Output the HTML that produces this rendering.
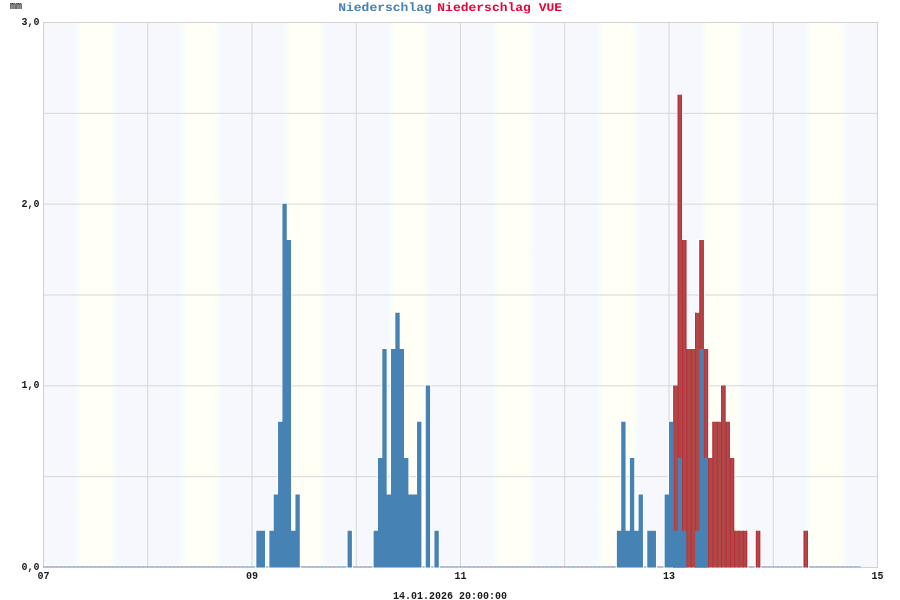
<!DOCTYPE html>
<html><head><meta charset="utf-8"><style>
html,body{margin:0;padding:0;background:#fff;width:900px;height:600px;overflow:hidden}
svg{display:block;will-change:transform}
text{font-family:"Liberation Mono",monospace;font-weight:bold}
</style></head><body>
<svg width="900" height="600" viewBox="0 0 900 600">
<defs><linearGradient id="bg" x1="43" y1="0" x2="877" y2="0" gradientUnits="userSpaceOnUse">
<stop offset="3.828%" stop-color="#f6f8fe"/>
<stop offset="3.958%" stop-color="#f4fcfe"/>
<stop offset="4.323%" stop-color="#f8fef7"/>
<stop offset="4.688%" stop-color="#fffff5"/>
<stop offset="8.125%" stop-color="#fffff5"/>
<stop offset="8.490%" stop-color="#f8fef7"/>
<stop offset="8.802%" stop-color="#f4fcfe"/>
<stop offset="8.932%" stop-color="#f6f8fe"/>
<stop offset="16.328%" stop-color="#f6f8fe"/>
<stop offset="16.458%" stop-color="#f4fcfe"/>
<stop offset="16.823%" stop-color="#f8fef7"/>
<stop offset="17.188%" stop-color="#fffff5"/>
<stop offset="20.625%" stop-color="#fffff5"/>
<stop offset="20.990%" stop-color="#f8fef7"/>
<stop offset="21.302%" stop-color="#f4fcfe"/>
<stop offset="21.432%" stop-color="#f6f8fe"/>
<stop offset="28.828%" stop-color="#f6f8fe"/>
<stop offset="28.958%" stop-color="#f4fcfe"/>
<stop offset="29.323%" stop-color="#f8fef7"/>
<stop offset="29.688%" stop-color="#fffff5"/>
<stop offset="33.125%" stop-color="#fffff5"/>
<stop offset="33.490%" stop-color="#f8fef7"/>
<stop offset="33.802%" stop-color="#f4fcfe"/>
<stop offset="33.932%" stop-color="#f6f8fe"/>
<stop offset="41.328%" stop-color="#f6f8fe"/>
<stop offset="41.458%" stop-color="#f4fcfe"/>
<stop offset="41.823%" stop-color="#f8fef7"/>
<stop offset="42.188%" stop-color="#fffff5"/>
<stop offset="45.625%" stop-color="#fffff5"/>
<stop offset="45.990%" stop-color="#f8fef7"/>
<stop offset="46.302%" stop-color="#f4fcfe"/>
<stop offset="46.432%" stop-color="#f6f8fe"/>
<stop offset="53.828%" stop-color="#f6f8fe"/>
<stop offset="53.958%" stop-color="#f4fcfe"/>
<stop offset="54.323%" stop-color="#f8fef7"/>
<stop offset="54.688%" stop-color="#fffff5"/>
<stop offset="58.125%" stop-color="#fffff5"/>
<stop offset="58.490%" stop-color="#f8fef7"/>
<stop offset="58.802%" stop-color="#f4fcfe"/>
<stop offset="58.932%" stop-color="#f6f8fe"/>
<stop offset="66.328%" stop-color="#f6f8fe"/>
<stop offset="66.458%" stop-color="#f4fcfe"/>
<stop offset="66.823%" stop-color="#f8fef7"/>
<stop offset="67.188%" stop-color="#fffff5"/>
<stop offset="70.625%" stop-color="#fffff5"/>
<stop offset="70.990%" stop-color="#f8fef7"/>
<stop offset="71.302%" stop-color="#f4fcfe"/>
<stop offset="71.432%" stop-color="#f6f8fe"/>
<stop offset="78.828%" stop-color="#f6f8fe"/>
<stop offset="78.958%" stop-color="#f4fcfe"/>
<stop offset="79.323%" stop-color="#f8fef7"/>
<stop offset="79.688%" stop-color="#fffff5"/>
<stop offset="83.125%" stop-color="#fffff5"/>
<stop offset="83.490%" stop-color="#f8fef7"/>
<stop offset="83.802%" stop-color="#f4fcfe"/>
<stop offset="83.932%" stop-color="#f6f8fe"/>
<stop offset="91.328%" stop-color="#f6f8fe"/>
<stop offset="91.458%" stop-color="#f4fcfe"/>
<stop offset="91.823%" stop-color="#f8fef7"/>
<stop offset="92.188%" stop-color="#fffff5"/>
<stop offset="95.625%" stop-color="#fffff5"/>
<stop offset="95.990%" stop-color="#f8fef7"/>
<stop offset="96.302%" stop-color="#f4fcfe"/>
<stop offset="96.432%" stop-color="#f6f8fe"/>
</linearGradient></defs>
<rect x="0" y="0" width="900" height="600" fill="#ffffff"/>
<rect x="43" y="22" width="834" height="545" fill="url(#bg)"/>
<rect x="43" y="565" width="817.8" height="1" fill="#ffffff"/>
<line x1="147.75" y1="22" x2="147.75" y2="567" stroke="#d6d6d6" stroke-width="1"/>
<line x1="252.00" y1="22" x2="252.00" y2="567" stroke="#d6d6d6" stroke-width="1"/>
<line x1="356.25" y1="22" x2="356.25" y2="567" stroke="#d6d6d6" stroke-width="1"/>
<line x1="460.50" y1="22" x2="460.50" y2="567" stroke="#d6d6d6" stroke-width="1"/>
<line x1="564.75" y1="22" x2="564.75" y2="567" stroke="#d6d6d6" stroke-width="1"/>
<line x1="669.00" y1="22" x2="669.00" y2="567" stroke="#d6d6d6" stroke-width="1"/>
<line x1="773.25" y1="22" x2="773.25" y2="567" stroke="#d6d6d6" stroke-width="1"/>
<line x1="43" y1="113.33" x2="877" y2="113.33" stroke="#d6d6d6" stroke-width="1"/>
<line x1="43" y1="204.17" x2="877" y2="204.17" stroke="#d6d6d6" stroke-width="1"/>
<line x1="43" y1="295.00" x2="877" y2="295.00" stroke="#d6d6d6" stroke-width="1"/>
<line x1="43" y1="385.83" x2="877" y2="385.83" stroke="#d6d6d6" stroke-width="1"/>
<line x1="43" y1="476.67" x2="877" y2="476.67" stroke="#d6d6d6" stroke-width="1"/>
<rect x="43.5" y="22.5" width="834" height="545" fill="none" stroke="#d2d2d2" stroke-width="1"/>
<g>
<rect x="43" y="566" width="817.8" height="1.6" fill="#a9c1d6"/>
<rect x="43.00" y="566" width="1" height="1.6" fill="#c4a4bc"/>
<rect x="47.34" y="566" width="1" height="1.6" fill="#c4a4bc"/>
<rect x="51.69" y="566" width="1" height="1.6" fill="#c4a4bc"/>
<rect x="56.03" y="566" width="1" height="1.6" fill="#c4a4bc"/>
<rect x="60.38" y="566" width="1" height="1.6" fill="#c4a4bc"/>
<rect x="64.72" y="566" width="1" height="1.6" fill="#c4a4bc"/>
<rect x="69.06" y="566" width="1" height="1.6" fill="#c4a4bc"/>
<rect x="73.41" y="566" width="1" height="1.6" fill="#c4a4bc"/>
<rect x="77.75" y="566" width="1" height="1.6" fill="#c4a4bc"/>
<rect x="82.09" y="566" width="1" height="1.6" fill="#c4a4bc"/>
<rect x="86.44" y="566" width="1" height="1.6" fill="#c4a4bc"/>
<rect x="90.78" y="566" width="1" height="1.6" fill="#c4a4bc"/>
<rect x="95.12" y="566" width="1" height="1.6" fill="#c4a4bc"/>
<rect x="99.47" y="566" width="1" height="1.6" fill="#c4a4bc"/>
<rect x="103.81" y="566" width="1" height="1.6" fill="#c4a4bc"/>
<rect x="108.16" y="566" width="1" height="1.6" fill="#c4a4bc"/>
<rect x="112.50" y="566" width="1" height="1.6" fill="#c4a4bc"/>
<rect x="116.84" y="566" width="1" height="1.6" fill="#c4a4bc"/>
<rect x="121.19" y="566" width="1" height="1.6" fill="#c4a4bc"/>
<rect x="125.53" y="566" width="1" height="1.6" fill="#c4a4bc"/>
<rect x="129.88" y="566" width="1" height="1.6" fill="#c4a4bc"/>
<rect x="134.22" y="566" width="1" height="1.6" fill="#c4a4bc"/>
<rect x="138.56" y="566" width="1" height="1.6" fill="#c4a4bc"/>
<rect x="142.91" y="566" width="1" height="1.6" fill="#c4a4bc"/>
<rect x="147.25" y="566" width="1" height="1.6" fill="#c4a4bc"/>
<rect x="151.59" y="566" width="1" height="1.6" fill="#c4a4bc"/>
<rect x="155.94" y="566" width="1" height="1.6" fill="#c4a4bc"/>
<rect x="160.28" y="566" width="1" height="1.6" fill="#c4a4bc"/>
<rect x="164.62" y="566" width="1" height="1.6" fill="#c4a4bc"/>
<rect x="168.97" y="566" width="1" height="1.6" fill="#c4a4bc"/>
<rect x="173.31" y="566" width="1" height="1.6" fill="#c4a4bc"/>
<rect x="177.66" y="566" width="1" height="1.6" fill="#c4a4bc"/>
<rect x="182.00" y="566" width="1" height="1.6" fill="#c4a4bc"/>
<rect x="186.34" y="566" width="1" height="1.6" fill="#c4a4bc"/>
<rect x="190.69" y="566" width="1" height="1.6" fill="#c4a4bc"/>
<rect x="195.03" y="566" width="1" height="1.6" fill="#c4a4bc"/>
<rect x="199.38" y="566" width="1" height="1.6" fill="#c4a4bc"/>
<rect x="203.72" y="566" width="1" height="1.6" fill="#c4a4bc"/>
<rect x="208.06" y="566" width="1" height="1.6" fill="#c4a4bc"/>
<rect x="212.41" y="566" width="1" height="1.6" fill="#c4a4bc"/>
<rect x="216.75" y="566" width="1" height="1.6" fill="#c4a4bc"/>
<rect x="221.09" y="566" width="1" height="1.6" fill="#c4a4bc"/>
<rect x="225.44" y="566" width="1" height="1.6" fill="#c4a4bc"/>
<rect x="229.78" y="566" width="1" height="1.6" fill="#c4a4bc"/>
<rect x="234.12" y="566" width="1" height="1.6" fill="#c4a4bc"/>
<rect x="238.47" y="566" width="1" height="1.6" fill="#c4a4bc"/>
<rect x="242.81" y="566" width="1" height="1.6" fill="#c4a4bc"/>
<rect x="247.16" y="566" width="1" height="1.6" fill="#c4a4bc"/>
<rect x="251.50" y="566" width="1" height="1.6" fill="#c4a4bc"/>
<rect x="264.53" y="566" width="1" height="1.6" fill="#c4a4bc"/>
<rect x="299.28" y="566" width="1" height="1.6" fill="#c4a4bc"/>
<rect x="303.62" y="566" width="1" height="1.6" fill="#c4a4bc"/>
<rect x="307.97" y="566" width="1" height="1.6" fill="#c4a4bc"/>
<rect x="312.31" y="566" width="1" height="1.6" fill="#c4a4bc"/>
<rect x="316.66" y="566" width="1" height="1.6" fill="#c4a4bc"/>
<rect x="321.00" y="566" width="1" height="1.6" fill="#c4a4bc"/>
<rect x="325.34" y="566" width="1" height="1.6" fill="#c4a4bc"/>
<rect x="329.69" y="566" width="1" height="1.6" fill="#c4a4bc"/>
<rect x="334.03" y="566" width="1" height="1.6" fill="#c4a4bc"/>
<rect x="338.38" y="566" width="1" height="1.6" fill="#c4a4bc"/>
<rect x="342.72" y="566" width="1" height="1.6" fill="#c4a4bc"/>
<rect x="351.41" y="566" width="1" height="1.6" fill="#c4a4bc"/>
<rect x="355.75" y="566" width="1" height="1.6" fill="#c4a4bc"/>
<rect x="360.09" y="566" width="1" height="1.6" fill="#c4a4bc"/>
<rect x="364.44" y="566" width="1" height="1.6" fill="#c4a4bc"/>
<rect x="368.78" y="566" width="1" height="1.6" fill="#c4a4bc"/>
<rect x="420.91" y="566" width="1" height="1.6" fill="#c4a4bc"/>
<rect x="429.59" y="566" width="1" height="1.6" fill="#c4a4bc"/>
<rect x="438.28" y="566" width="1" height="1.6" fill="#c4a4bc"/>
<rect x="442.62" y="566" width="1" height="1.6" fill="#c4a4bc"/>
<rect x="446.97" y="566" width="1" height="1.6" fill="#c4a4bc"/>
<rect x="451.31" y="566" width="1" height="1.6" fill="#c4a4bc"/>
<rect x="455.66" y="566" width="1" height="1.6" fill="#c4a4bc"/>
<rect x="460.00" y="566" width="1" height="1.6" fill="#c4a4bc"/>
<rect x="464.34" y="566" width="1" height="1.6" fill="#c4a4bc"/>
<rect x="468.69" y="566" width="1" height="1.6" fill="#c4a4bc"/>
<rect x="473.03" y="566" width="1" height="1.6" fill="#c4a4bc"/>
<rect x="477.38" y="566" width="1" height="1.6" fill="#c4a4bc"/>
<rect x="481.72" y="566" width="1" height="1.6" fill="#c4a4bc"/>
<rect x="486.06" y="566" width="1" height="1.6" fill="#c4a4bc"/>
<rect x="490.41" y="566" width="1" height="1.6" fill="#c4a4bc"/>
<rect x="494.75" y="566" width="1" height="1.6" fill="#c4a4bc"/>
<rect x="499.09" y="566" width="1" height="1.6" fill="#c4a4bc"/>
<rect x="503.44" y="566" width="1" height="1.6" fill="#c4a4bc"/>
<rect x="507.78" y="566" width="1" height="1.6" fill="#c4a4bc"/>
<rect x="512.12" y="566" width="1" height="1.6" fill="#c4a4bc"/>
<rect x="516.47" y="566" width="1" height="1.6" fill="#c4a4bc"/>
<rect x="520.81" y="566" width="1" height="1.6" fill="#c4a4bc"/>
<rect x="525.16" y="566" width="1" height="1.6" fill="#c4a4bc"/>
<rect x="529.50" y="566" width="1" height="1.6" fill="#c4a4bc"/>
<rect x="533.84" y="566" width="1" height="1.6" fill="#c4a4bc"/>
<rect x="538.19" y="566" width="1" height="1.6" fill="#c4a4bc"/>
<rect x="542.53" y="566" width="1" height="1.6" fill="#c4a4bc"/>
<rect x="546.88" y="566" width="1" height="1.6" fill="#c4a4bc"/>
<rect x="551.22" y="566" width="1" height="1.6" fill="#c4a4bc"/>
<rect x="555.56" y="566" width="1" height="1.6" fill="#c4a4bc"/>
<rect x="559.91" y="566" width="1" height="1.6" fill="#c4a4bc"/>
<rect x="564.25" y="566" width="1" height="1.6" fill="#c4a4bc"/>
<rect x="568.59" y="566" width="1" height="1.6" fill="#c4a4bc"/>
<rect x="572.94" y="566" width="1" height="1.6" fill="#c4a4bc"/>
<rect x="577.28" y="566" width="1" height="1.6" fill="#c4a4bc"/>
<rect x="581.62" y="566" width="1" height="1.6" fill="#c4a4bc"/>
<rect x="585.97" y="566" width="1" height="1.6" fill="#c4a4bc"/>
<rect x="590.31" y="566" width="1" height="1.6" fill="#c4a4bc"/>
<rect x="594.66" y="566" width="1" height="1.6" fill="#c4a4bc"/>
<rect x="599.00" y="566" width="1" height="1.6" fill="#c4a4bc"/>
<rect x="603.34" y="566" width="1" height="1.6" fill="#c4a4bc"/>
<rect x="607.69" y="566" width="1" height="1.6" fill="#c4a4bc"/>
<rect x="612.03" y="566" width="1" height="1.6" fill="#c4a4bc"/>
<rect x="642.44" y="566" width="1" height="1.6" fill="#c4a4bc"/>
<rect x="655.47" y="566" width="1" height="1.6" fill="#c4a4bc"/>
<rect x="659.81" y="566" width="1" height="1.6" fill="#c4a4bc"/>
<rect x="746.69" y="566" width="1" height="1.6" fill="#c4a4bc"/>
<rect x="751.03" y="566" width="1" height="1.6" fill="#c4a4bc"/>
<rect x="759.72" y="566" width="1" height="1.6" fill="#c4a4bc"/>
<rect x="764.06" y="566" width="1" height="1.6" fill="#c4a4bc"/>
<rect x="768.41" y="566" width="1" height="1.6" fill="#c4a4bc"/>
<rect x="772.75" y="566" width="1" height="1.6" fill="#c4a4bc"/>
<rect x="777.09" y="566" width="1" height="1.6" fill="#c4a4bc"/>
<rect x="781.44" y="566" width="1" height="1.6" fill="#c4a4bc"/>
<rect x="785.78" y="566" width="1" height="1.6" fill="#c4a4bc"/>
<rect x="790.12" y="566" width="1" height="1.6" fill="#c4a4bc"/>
<rect x="794.47" y="566" width="1" height="1.6" fill="#c4a4bc"/>
<rect x="798.81" y="566" width="1" height="1.6" fill="#c4a4bc"/>
<rect x="807.50" y="566" width="1" height="1.6" fill="#c4a4bc"/>
<rect x="811.84" y="566" width="1" height="1.6" fill="#c4a4bc"/>
<rect x="816.19" y="566" width="1" height="1.6" fill="#c4a4bc"/>
<rect x="820.53" y="566" width="1" height="1.6" fill="#c4a4bc"/>
<rect x="824.88" y="566" width="1" height="1.6" fill="#c4a4bc"/>
<rect x="829.22" y="566" width="1" height="1.6" fill="#c4a4bc"/>
<rect x="833.56" y="566" width="1" height="1.6" fill="#c4a4bc"/>
<rect x="837.91" y="566" width="1" height="1.6" fill="#c4a4bc"/>
<rect x="842.25" y="566" width="1" height="1.6" fill="#c4a4bc"/>
<rect x="846.59" y="566" width="1" height="1.6" fill="#c4a4bc"/>
<rect x="850.94" y="566" width="1" height="1.6" fill="#c4a4bc"/>
<rect x="855.28" y="566" width="1" height="1.6" fill="#c4a4bc"/>
<path d="M673.34 567.4 L673.34 385.43 L677.69 385.43 L677.69 94.77 L682.03 94.77 L682.03 240.10 L686.38 240.10 L686.38 349.10 L690.72 349.10 L690.72 349.10 L695.06 349.10 L695.06 312.77 L699.41 312.77 L699.41 240.10 L703.75 240.10 L703.75 349.10 L708.09 349.10 L708.09 458.10 L712.44 458.10 L712.44 421.77 L716.78 421.77 L716.78 421.77 L721.12 421.77 L721.12 385.43 L725.47 385.43 L725.47 421.77 L729.81 421.77 L729.81 458.10 L734.16 458.10 L734.16 530.77 L738.50 530.77 L738.50 530.77 L742.84 530.77 L742.84 530.77 L747.19 530.77 L747.19 567.4 Z M755.88 567.4 L755.88 530.77 L760.22 530.77 L760.22 567.4 Z M803.66 567.4 L803.66 530.77 L808.00 530.77 L808.00 567.4 Z" fill="none" stroke="#ffffff" stroke-width="2.2" stroke-opacity="0.85" stroke-linejoin="miter"/>
<path d="M256.34 567.4 L256.34 530.77 L260.69 530.77 L260.69 530.77 L265.03 530.77 L265.03 567.4 Z M269.38 567.4 L269.38 530.77 L273.72 530.77 L273.72 494.43 L278.06 494.43 L278.06 421.77 L282.41 421.77 L282.41 203.77 L286.75 203.77 L286.75 240.10 L291.09 240.10 L291.09 530.77 L295.44 530.77 L295.44 494.43 L299.78 494.43 L299.78 567.4 Z M347.56 567.4 L347.56 530.77 L351.91 530.77 L351.91 567.4 Z M373.62 567.4 L373.62 530.77 L377.97 530.77 L377.97 458.10 L382.31 458.10 L382.31 349.10 L386.66 349.10 L386.66 494.43 L391.00 494.43 L391.00 349.10 L395.34 349.10 L395.34 312.77 L399.69 312.77 L399.69 349.10 L404.03 349.10 L404.03 458.10 L408.38 458.10 L408.38 494.43 L412.72 494.43 L412.72 494.43 L417.06 494.43 L417.06 421.77 L421.41 421.77 L421.41 567.4 Z M425.75 567.4 L425.75 385.43 L430.09 385.43 L430.09 567.4 Z M434.44 567.4 L434.44 530.77 L438.78 530.77 L438.78 567.4 Z M616.88 567.4 L616.88 530.77 L621.22 530.77 L621.22 421.77 L625.56 421.77 L625.56 530.77 L629.91 530.77 L629.91 458.10 L634.25 458.10 L634.25 530.77 L638.59 530.77 L638.59 494.43 L642.94 494.43 L642.94 567.4 Z M647.28 567.4 L647.28 530.77 L651.62 530.77 L651.62 530.77 L655.97 530.77 L655.97 567.4 Z M664.66 567.4 L664.66 494.43 L669.00 494.43 L669.00 421.77 L673.34 421.77 L673.34 530.77 L677.69 530.77 L677.69 458.10 L682.03 458.10 L682.03 530.77 L686.38 530.77 L686.38 567.4 Z M695.06 567.4 L695.06 530.77 L699.41 530.77 L699.41 349.10 L703.75 349.10 L703.75 458.10 L708.09 458.10 L708.09 567.4 Z" fill="none" stroke="#ffffff" stroke-width="2.2" stroke-opacity="0.85" stroke-linejoin="miter"/>
<path d="M673.34 567.4 L673.34 385.43 L677.69 385.43 L677.69 94.77 L682.03 94.77 L682.03 240.10 L686.38 240.10 L686.38 349.10 L690.72 349.10 L690.72 349.10 L695.06 349.10 L695.06 312.77 L699.41 312.77 L699.41 240.10 L703.75 240.10 L703.75 349.10 L708.09 349.10 L708.09 458.10 L712.44 458.10 L712.44 421.77 L716.78 421.77 L716.78 421.77 L721.12 421.77 L721.12 385.43 L725.47 385.43 L725.47 421.77 L729.81 421.77 L729.81 458.10 L734.16 458.10 L734.16 530.77 L738.50 530.77 L738.50 530.77 L742.84 530.77 L742.84 530.77 L747.19 530.77 L747.19 567.4 Z M755.88 567.4 L755.88 530.77 L760.22 530.77 L760.22 567.4 Z M803.66 567.4 L803.66 530.77 L808.00 530.77 L808.00 567.4 Z" fill="#b04848"/>
<rect x="673.34" y="385.43" width="1" height="181.97" fill="#bb2d3a"/>
<rect x="677.69" y="94.77" width="1" height="472.63" fill="#bb2d3a"/>
<rect x="681.03" y="94.77" width="1" height="145.33" fill="#bb2d3a"/>
<rect x="682.03" y="240.10" width="1" height="327.30" fill="#bb2d3a"/>
<rect x="685.38" y="240.10" width="1" height="109.00" fill="#bb2d3a"/>
<rect x="686.38" y="349.10" width="1" height="218.30" fill="#bb2d3a"/>
<rect x="690.72" y="349.10" width="1" height="218.30" fill="#bb2d3a"/>
<rect x="695.06" y="312.77" width="1" height="254.63" fill="#bb2d3a"/>
<rect x="699.41" y="240.10" width="1" height="327.30" fill="#bb2d3a"/>
<rect x="702.75" y="240.10" width="1" height="109.00" fill="#bb2d3a"/>
<rect x="703.75" y="349.10" width="1" height="218.30" fill="#bb2d3a"/>
<rect x="707.09" y="349.10" width="1" height="109.00" fill="#bb2d3a"/>
<rect x="708.09" y="458.10" width="1" height="109.30" fill="#bb2d3a"/>
<rect x="712.44" y="421.77" width="1" height="145.63" fill="#bb2d3a"/>
<rect x="716.78" y="421.77" width="1" height="145.63" fill="#bb2d3a"/>
<rect x="721.12" y="385.43" width="1" height="181.97" fill="#bb2d3a"/>
<rect x="724.47" y="385.43" width="1" height="36.33" fill="#bb2d3a"/>
<rect x="725.47" y="421.77" width="1" height="145.63" fill="#bb2d3a"/>
<rect x="728.81" y="421.77" width="1" height="36.33" fill="#bb2d3a"/>
<rect x="729.81" y="458.10" width="1" height="109.30" fill="#bb2d3a"/>
<rect x="733.16" y="458.10" width="1" height="72.67" fill="#bb2d3a"/>
<rect x="734.16" y="530.77" width="1" height="36.63" fill="#bb2d3a"/>
<rect x="738.50" y="530.77" width="1" height="36.63" fill="#bb2d3a"/>
<rect x="742.84" y="530.77" width="1" height="36.63" fill="#bb2d3a"/>
<rect x="746.19" y="530.77" width="1" height="36.63" fill="#bb2d3a"/>
<rect x="755.88" y="530.77" width="1" height="36.63" fill="#bb2d3a"/>
<rect x="759.22" y="530.77" width="1" height="36.63" fill="#bb2d3a"/>
<rect x="803.66" y="530.77" width="1" height="36.63" fill="#bb2d3a"/>
<rect x="807.00" y="530.77" width="1" height="36.63" fill="#bb2d3a"/>
</g>
<g>
<path d="M256.34 567.4 L256.34 530.77 L260.69 530.77 L260.69 530.77 L265.03 530.77 L265.03 567.4 Z M269.38 567.4 L269.38 530.77 L273.72 530.77 L273.72 494.43 L278.06 494.43 L278.06 421.77 L282.41 421.77 L282.41 203.77 L286.75 203.77 L286.75 240.10 L291.09 240.10 L291.09 530.77 L295.44 530.77 L295.44 494.43 L299.78 494.43 L299.78 567.4 Z M347.56 567.4 L347.56 530.77 L351.91 530.77 L351.91 567.4 Z M373.62 567.4 L373.62 530.77 L377.97 530.77 L377.97 458.10 L382.31 458.10 L382.31 349.10 L386.66 349.10 L386.66 494.43 L391.00 494.43 L391.00 349.10 L395.34 349.10 L395.34 312.77 L399.69 312.77 L399.69 349.10 L404.03 349.10 L404.03 458.10 L408.38 458.10 L408.38 494.43 L412.72 494.43 L412.72 494.43 L417.06 494.43 L417.06 421.77 L421.41 421.77 L421.41 567.4 Z M425.75 567.4 L425.75 385.43 L430.09 385.43 L430.09 567.4 Z M434.44 567.4 L434.44 530.77 L438.78 530.77 L438.78 567.4 Z M616.88 567.4 L616.88 530.77 L621.22 530.77 L621.22 421.77 L625.56 421.77 L625.56 530.77 L629.91 530.77 L629.91 458.10 L634.25 458.10 L634.25 530.77 L638.59 530.77 L638.59 494.43 L642.94 494.43 L642.94 567.4 Z M647.28 567.4 L647.28 530.77 L651.62 530.77 L651.62 530.77 L655.97 530.77 L655.97 567.4 Z M664.66 567.4 L664.66 494.43 L669.00 494.43 L669.00 421.77 L673.34 421.77 L673.34 530.77 L677.69 530.77 L677.69 458.10 L682.03 458.10 L682.03 530.77 L686.38 530.77 L686.38 567.4 Z M695.06 567.4 L695.06 530.77 L699.41 530.77 L699.41 349.10 L703.75 349.10 L703.75 458.10 L708.09 458.10 L708.09 567.4 Z" fill="#4682b4"/>
</g>
<g font-size="10" fill="#1a1a1a">
<text x="10" y="9" font-size="10">mm</text>
<text x="39.5" y="570.0" text-anchor="end">0,0</text>
<text x="39.5" y="388.3" text-anchor="end">1,0</text>
<text x="39.5" y="206.7" text-anchor="end">2,0</text>
<text x="39.5" y="25.0" text-anchor="end">3,0</text>
<text x="43.5" y="579" text-anchor="middle">07</text>
<text x="252.0" y="579" text-anchor="middle">09</text>
<text x="460.5" y="579" text-anchor="middle">11</text>
<text x="669.0" y="579" text-anchor="middle">13</text>
<text x="877.5" y="579" text-anchor="middle">15</text>
<text x="450" y="599" text-anchor="middle">14.01.2026 20:00:00</text>
</g>
<g font-size="13" text-rendering="geometricPrecision" transform="translate(0,10.9) scale(1,0.92)">
<text x="338.2" y="0" fill="#4682b4">Niederschlag</text>
<text x="437.3" y="0" fill="#e4063a">Niederschlag VUE</text>
</g>
</svg>
</body></html>
